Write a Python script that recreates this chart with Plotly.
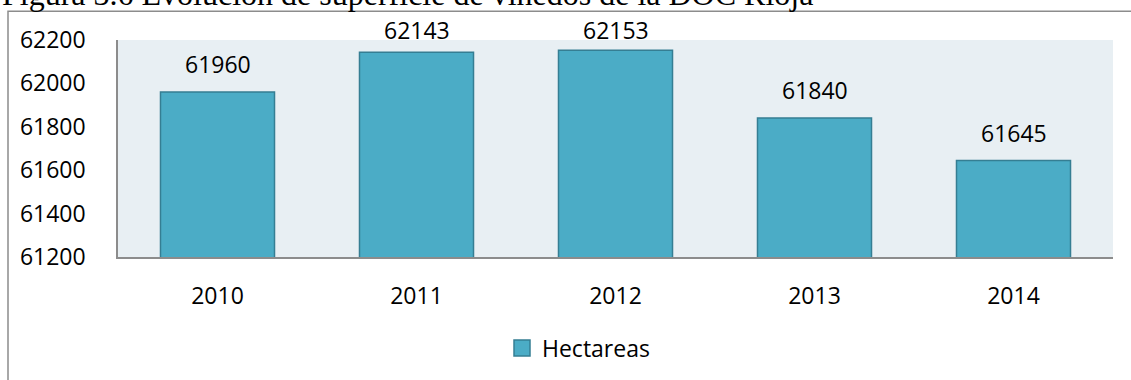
import plotly.graph_objects as go

years = ["2010", "2011", "2012", "2013", "2014"]
hectareas = [61960, 62143, 62153, 61840, 61645]
series_name = "Hectareas"
title_text = "Figura 3.6 Evolución de superficie de viñedos de la DOC Rioja"
y_ticks = [61200, 61400, 61600, 61800, 62000, 62200]

BAR = "#4BACC6"
BAR_EDGE = "#357E93"
FONT = "Open Sans"

W, H = 1131, 380
L, R, T, B = 118, 18, 40, 122
pw, ph = W - L - R, H - T - B
Y0, Y1 = y_ticks[0], y_ticks[-1]

def px_x(p):
    return (p - L) / pw

def px_y(p):
    return (H - B - p) / ph

fig = go.Figure()
fig.add_trace(go.Bar(
    x=years, y=hectareas, name=series_name, showlegend=False,
    marker=dict(color=BAR, line=dict(color=BAR_EDGE, width=1.5)),
))
fig.add_trace(go.Scatter(
    x=[None], y=[None], mode="markers", name=series_name,
    marker=dict(symbol="square", size=16, color=BAR, line=dict(color=BAR_EDGE, width=1.5)),
))

# value labels: ~18 px above each bar, but kept inside the plot top (as Excel does)
gap_units = 18 * (Y1 - Y0) / ph
for i, v in enumerate(hectareas):
    fig.add_annotation(x=i, y=min(v + gap_units, Y1), text=str(v), showarrow=False,
                       yanchor="bottom", yshift=-8,
                       font=dict(family=FONT, size=23, color="#000000"))

fig.add_annotation(xref="paper", yref="paper", x=px_x(0), y=px_y(14), xanchor="left",
                   yanchor="bottom", text=title_text, showarrow=False,
                   font=dict(family="Liberation Serif", size=32, color="#000000"))

fig.add_shape(type="rect", xref="paper", yref="paper",
              x0=px_x(8), x1=px_x(W + 10), y0=px_y(11), y1=px_y(H + 10),
              line=dict(color="#8C8C8C", width=1.5), fillcolor="rgba(0,0,0,0)", layer="below")

fig.update_layout(
    width=W, height=H,
    margin=dict(l=L, r=R, t=T, b=B, pad=0),
    paper_bgcolor="#FFFFFF", plot_bgcolor="#E8EFF3",
    bargap=0.427,
    font=dict(family=FONT, size=23, color="#000000"),
    showlegend=True,
    legend=dict(orientation="h", x=px_x(502), xanchor="left", y=px_y(348), yanchor="middle",
                font=dict(family=FONT, size=23, color="#000000"), bgcolor="rgba(0,0,0,0)"),
    xaxis=dict(type="category", categoryorder="array", categoryarray=years,
               range=[-0.5, len(years) - 0.5],
               showgrid=False, showline=True, linecolor="#8C8C8C", linewidth=1.5,
               ticks="", ticklabelstandoff=18, tickfont=dict(family=FONT, size=23)),
    yaxis=dict(range=[Y0, Y1], tickvals=y_ticks, ticktext=[str(t) for t in y_ticks],
               showgrid=False, zeroline=False, showline=True, linecolor="#8C8C8C", linewidth=1.5,
               ticks="", ticklabelstandoff=26, tickfont=dict(family=FONT, size=23)),
)

fig.write_html("out.html")
